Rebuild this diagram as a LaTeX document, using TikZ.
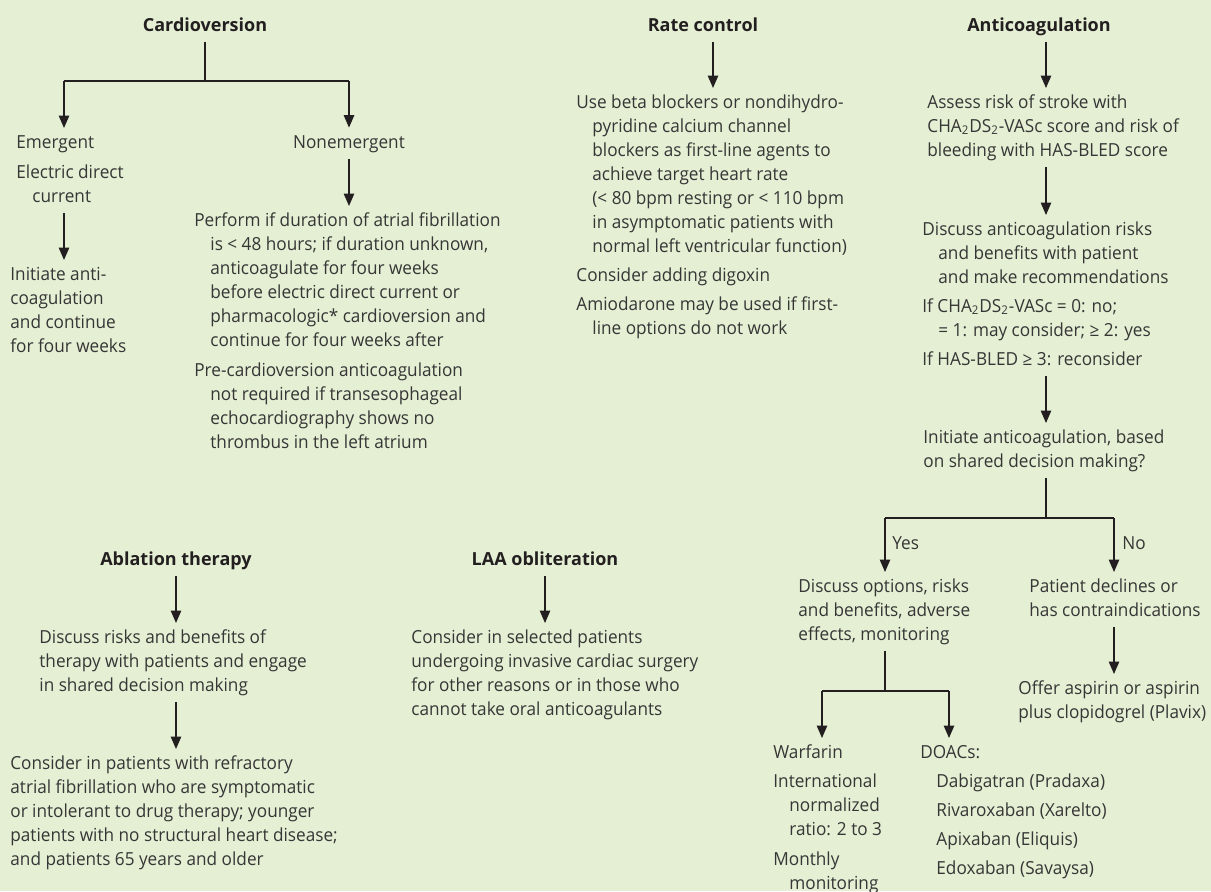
\documentclass[tikz,border=0pt]{standalone}
\usepackage{fontspec}
\setmainfont{Open Sans}
\newfontfamily\bodyfam{Open Sans}[FakeStretch=0.955]
\usetikzlibrary{arrows.meta}
\definecolor{bg}{HTML}{E4EFD3}
\definecolor{ink}{HTML}{231F20}
\definecolor{txt}{HTML}{363636}
\newcommand\bodyf{\bodyfam\fontsize{9}{12}\selectfont}
\newcommand\ttlf{\fontsize{9}{12}\selectfont\bfseries}
\newcommand\ind{\hspace*{8pt}}
\begin{document}
\begin{tikzpicture}[x=0.5pt,y=-0.5pt,
  ln/.style={draw=ink, line width=0.65pt},
  arr/.style={ln, -{Triangle[length=6.2pt,width=5.2pt]}},
  short/.style={shorten <=1.7pt, shorten >=1.6pt},
  ttl/.style={anchor=base, inner sep=0pt, font=\ttlf, text=ink},
  blk/.style={anchor=north west, inner sep=0pt, align=left, font=\bodyf, text=txt},
  lbl/.style={anchor=base, inner sep=0pt, font=\bodyf, text=txt}]
\fill[bg] (0,0) rectangle (1211,891);
\useasboundingbox (0,0) rectangle (1211,891);

% ---------- Cardioversion ----------
\node[ttl] (cv) at (205,31) {\strut Cardioversion};
\coordinate (cvj) at (205,81);
\coordinate (cvL) at (64,81);
\coordinate (cvR) at (349,81);
\node[blk] (emg) at (16,131.2) {\strut Emergent\\[3pt]Electric direct\\\ind current\strut};
\node[blk] (ini) at (10,263.2) {\strut Initiate anti-\\coagulation\\and continue\\for four weeks\strut};
\node[lbl] (nonem) at (349,148) {\strut Nonemergent};
\node[blk] (perf) at (194,209.2) {\strut Perform if duration of atrial fibrillation\\\ind is < 48 hours; if duration unknown,\\\ind anticoagulate for four weeks\\\ind before electric direct current or\\\ind pharmacologic* cardioversion and\\\ind continue for four weeks after\\[3pt]Pre-cardioversion anticoagulation\\\ind not required if transesophageal\\\ind echocardiography shows no\\\ind thrombus in the left atrium\strut};

\draw[ln, shorten <=1.7pt] (cv.south) -- (cvj);
\draw[ln] (cvL) -- (cvR);
\draw[arr, shorten >=1.6pt] (cvL) -- (emg.north -| cvL);
\draw[arr, shorten >=1.6pt] (cvR) -- (nonem.north);
\draw[arr, short] (emg.south -| cvL) -- (ini.north -| cvL);
\draw[arr, short] (nonem.south) -- (perf.north -| nonem.south);

% ---------- Rate control ----------
\node[ttl] (rc) at (703,31) {\strut Rate control};
\coordinate (xrc) at (713,0);
\node[blk] (rcb) at (576,91.2) {\strut Use beta blockers or nondihydro-\\\ind pyridine calcium channel\\\ind blockers as first-line agents to\\\ind achieve target heart rate\\\ind (< 80 bpm resting or < 110 bpm\\\ind in asymptomatic patients with\\\ind normal left ventricular function)\\[2.5pt]Consider adding digoxin\\[2.5pt]Amiodarone may be used if first-\\\ind line options do not work\strut};
\draw[arr, short] (rc.south -| xrc) -- (rcb.north -| xrc);

% ---------- Anticoagulation ----------
\node[ttl] (ac) at (1039,31) {\strut Anticoagulation};
\coordinate (xac) at (1046,0);
\node[blk] (ass) at (927,91.2) {\strut Assess risk of stroke with\\CHA\textsubscript{2}DS\textsubscript{2}-VASc score and risk of\\bleeding with HAS-BLED score\strut};
\node[blk] (dis) at (922,218.2) {\strut Discuss anticoagulation risks\\\ind and benefits with patient\\\ind and make recommendations\\[2.5pt]If CHA\textsubscript{2}DS\textsubscript{2}-VASc = 0: no;\\\ind = 1: may consider; ≥ 2: yes\\[2.5pt]If HAS-BLED ≥ 3: reconsider\strut};
\node[blk] (iac) at (923,426.2) {\strut Initiate anticoagulation, based\\on shared decision making?\strut};
\draw[arr, short] (ac.south -| xac) -- (ass.north -| xac);
\draw[arr, short] (ass.south -| xac) -- (dis.north -| xac);
\draw[arr, short] (dis.south -| xac) -- (iac.north -| xac);

\coordinate (acj) at (1046,518);
\coordinate (yesx) at (885,518);
\coordinate (nox) at (1114,518);
\node[lbl, anchor=base west] (yes) at (892,549) {Yes};
\node[lbl, anchor=base west] (no) at (1122,549) {No};
\node[blk] (opt) at (798,575.2) {\strut Discuss options, risks\\and benefits, adverse\\effects, monitoring\strut};
\node[blk] (dec) at (1029,575.2) {\strut Patient declines or\\has contraindications\strut};
\node[blk] (asp) at (1018,677.2) {\strut Offer aspirin or aspirin\\plus clopidogrel (Plavix)\strut};
\draw[ln, shorten <=1.7pt] (iac.south -| xac) -- (acj);
\draw[ln] (yesx) -- (nox);
\draw[arr, shorten >=1.6pt] (yesx) -- (opt.north -| yesx);
\draw[arr, shorten >=1.6pt] (nox) -- (dec.north -| nox);
\draw[arr, short] (dec.south -| nox) -- (asp.north -| nox);

\coordinate (oj) at (885,691);
\coordinate (wx) at (822,691);
\coordinate (dx) at (949,691);
\node[blk] (war) at (773,741.2) {\strut Warfarin\\[2.5pt]International\\\ind normalized\\\ind ratio: 2 to 3\\[3pt]Monthly\\\ind monitoring\strut};
\node[blk] (doa) at (920,741.2) {\strut DOACs:\\[2.5pt]\ind Dabigatran (Pradaxa)\\[2.5pt]\ind Rivaroxaban (Xarelto)\\[2.5pt]\ind Apixaban (Eliquis)\\[2.5pt]\ind Edoxaban (Savaysa)\strut};
\draw[ln, shorten <=1.7pt] (opt.south -| yesx) -- (oj);
\draw[ln] (wx) -- (dx);
\draw[arr, shorten >=1.6pt] (wx) -- (war.north -| wx);
\draw[arr, shorten >=1.6pt] (dx) -- (doa.north -| dx);

% ---------- Ablation therapy ----------
\node[ttl] (abl) at (176,565) {\strut Ablation therapy};
\node[blk] (abd) at (39,626.2) {\strut Discuss risks and benefits of\\therapy with patients and engage\\in shared decision making\strut};
\node[blk] (abc) at (10,752.2) {\strut Consider in patients with refractory\\atrial fibrillation who are symptomatic\\or intolerant to drug therapy; younger\\patients with no structural heart disease;\\and patients 65 years and older\strut};
\draw[arr, short] (abl.south) -- (abd.north -| abl.south);
\draw[arr, short] (abd.south -| abl.south) -- (abc.north -| abl.south);

% ---------- LAA obliteration ----------
\node[ttl] (laa) at (545,565) {\strut LAA obliteration};
\node[blk] (laab) at (411,626.2) {\strut Consider in selected patients\\undergoing invasive cardiac surgery\\for other reasons or in those who\\cannot take oral anticoagulants\strut};
\draw[arr, short] (laa.south) -- (laab.north -| laa.south);
\end{tikzpicture}
\end{document}
